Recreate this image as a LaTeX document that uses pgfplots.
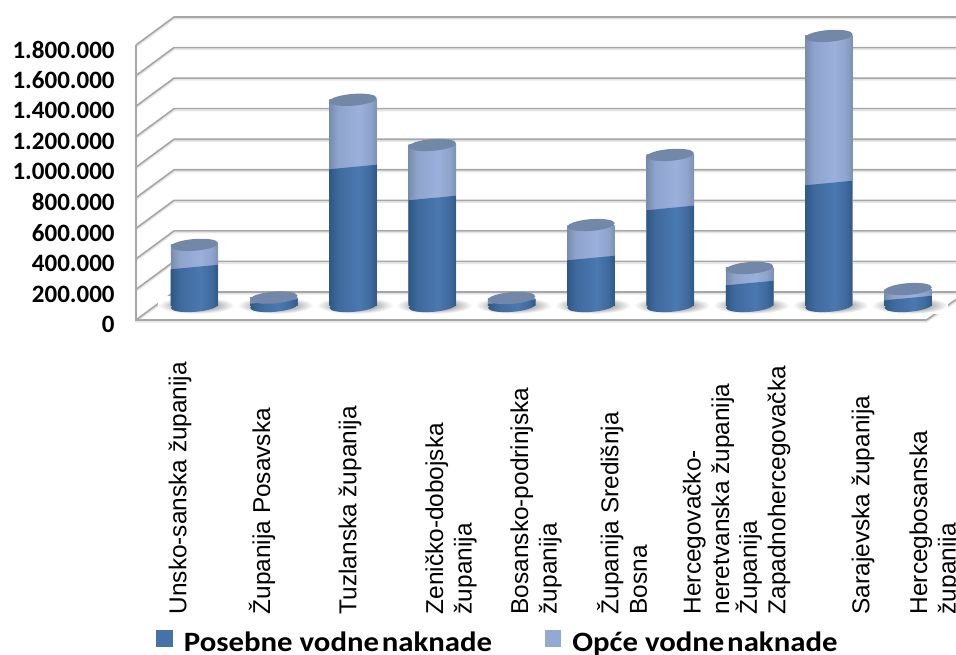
\documentclass[border=0pt]{standalone}
\usepackage{fontspec}
\usepackage{pgfplots}
\usepackage{pgfplotstable}
\pgfplotsset{compat=1.18}
\setmainfont{Carlito}
\newfontfamily\catfont{Liberation Sans}
\newfontfamily\legfont[FakeStretch=1.10]{Carlito}
\definecolor{darkleg}{HTML}{4672A8}
\definecolor{lightleg}{HTML}{94A9D2}
\definecolor{capcol}{HTML}{7387A8}
\definecolor{gridcol}{HTML}{A6A6A6}
\definecolor{d0}{HTML}{2E5885}
\definecolor{d1}{HTML}{3F6A9E}
\definecolor{d2}{HTML}{4A78B0}
\definecolor{d3}{HTML}{2F5887}
\definecolor{l0}{HTML}{788CAE}
\definecolor{l1}{HTML}{8FA4CC}
\definecolor{l2}{HTML}{9BB0DA}
\definecolor{l3}{HTML}{7C90B2}
\definecolor{fs}{HTML}{A8A8A8}
\pgfdeclarehorizontalshading{cyldark}{100bp}{color(0bp)=(d0); color(25bp)=(d0); color(35bp)=(d1); color(56bp)=(d2); color(68bp)=(d1); color(75bp)=(d3); color(100bp)=(d3)}
\pgfdeclarehorizontalshading{cyllight}{100bp}{color(0bp)=(l0); color(25bp)=(l0); color(34bp)=(l1); color(56bp)=(l2); color(68bp)=(l1); color(75bp)=(l3); color(100bp)=(l3)}
\pgfdeclareradialshading{floorshade}{\pgfpointorigin}{color(0bp)=(fs); color(12bp)=(fs); color(25bp)=(white); color(50bp)=(white)}
% tilted ellipse of the cylinder ends
\newcommand\cylpath{\pgfpathellipse{\pgfpointorigin}{\pgfpoint{17.75pt}{1.4pt}}{\pgfpoint{-0.33pt}{4.4pt}}}
\pgfdeclareplotmark{cylbase}{\cylpath\pgfshadepath{cyldark}{0}\pgfusepath{discard}}
\pgfdeclareplotmark{cyltop}{\cylpath\pgfsetfillcolor{capcol}\pgfusepath{fill}}
% one cylinder: x, posebne, posebne + opce (both in thousands)
% the lower part has a slanted top so the split follows the tilt of the caps
\newcommand\cyl[3]{
  \pgfmathsetmacro\xa{#1-0.46}
  \pgfmathsetmacro\xb{#1+0.50}
  \pgfmathsetmacro\xl{#1-0.2995}
  \pgfmathsetmacro\xr{#1+0.2995}
  \pgfmathtruncatemacro\yl{#2-15}
  \pgfmathtruncatemacro\yr{#2+15}
  \addplot[forget plot,draw=none,shade,shading=floorshade] coordinates {(\xa,-50000) (\xb,-50000) (\xb,60000) (\xa,60000)} -- cycle;
  \addplot[forget plot,ybar,bar shift=0pt,draw=none,shade,shading=cyllight] coordinates {(#1,#3000)};
  \addplot[forget plot,draw=none,shade,shading=cyldark] coordinates {(\xl,0) (\xr,0) (\xr,\yr000) (\xl,\yl000)} -- cycle;
  \addplot[forget plot,only marks,mark=cylbase] coordinates {(#1,0)};
  \addplot[forget plot,only marks,mark=cyltop] coordinates {(#1,#3000)};
}
% walls and floor, the grid lines go front left, back left, back right
\pgfplotstableread{
x y
-0.7377 -91652
-0.2585 91652
9.603 91652
nan nan
-0.7377 108348
-0.2585 291652
9.603 291652
nan nan
-0.7377 308348
-0.2585 491652
9.603 491652
nan nan
-0.7377 508348
-0.2585 691652
9.603 691652
nan nan
-0.7377 708348
-0.2585 891652
9.603 891652
nan nan
-0.7377 908348
-0.2585 1091652
9.603 1091652
nan nan
-0.7377 1108348
-0.2585 1291652
9.603 1291652
nan nan
-0.7377 1308348
-0.2585 1491652
9.603 1491652
nan nan
-0.7377 1508348
-0.2585 1691652
9.603 1691652
nan nan
-0.7377 1708348
-0.2585 1891652
9.603 1891652
nan nan
-0.7377 1708348
-0.7377 -91652
9.23 -91652
9.603 42000
}\walls
\begin{document}
\begin{tikzpicture}
\path[use as bounding box,clip] (0,0) rectangle (717pt,491.25pt);
\begin{axis}[
    at={(0,0)},anchor=south west,
    scale only axis,width=717pt,height=491.25pt,
    xmin=-2.4527,xmax=9.603,ymin=-2284765,ymax=2003260,
    axis line style={draw=none},
    tick style={draw=none},
    bar width=35.6pt,
    unbounded coords=jump,
    scaled y ticks=false,
    ytick={0,200000,400000,600000,800000,1000000,1200000,1400000,1600000,1800000},
    /pgf/number format/.cd,fixed,1000 sep={.},assume math mode=true,/pgfplots/.cd,
    yticklabel style={font=\fontsize{18.75}{20}\selectfont\bfseries,anchor=east,xshift=89.5pt,yshift=-13.9pt},
    xtick={-0.183,0.851,1.961,3.234,4.306,5.391,6.482,7.169,8.430,9.338},
    xticklabels={{Unsko-sanska županija},{Županija Posavska},{Tuzlanska županija},{Zeničko-dobojska\\županija},{Bosansko-podrinjska\\županija},{Županija Središnja\\Bosna},{Hercegovačko-\\neretvanska županija},{Županija\\Zapadnohercegovačka},{Sarajevska županija},{Hercegbosanska\\županija}},
    xticklabel style={font=\catfont\fontsize{18.3}{21.4}\selectfont,rotate=90,anchor=west,align=left,xshift=27pt},
    legend style={at={(114pt,-3pt)},anchor=south west,draw=none,fill=none,legend columns=2,
        font=\legfont\fontsize{21}{22}\selectfont\bfseries,
        /tikz/every even column/.style={column sep=37.5pt}},
]
\addplot[forget plot,no markers,black!10,line width=1.3pt,yshift=-1.3pt] table {\walls};
\addplot[forget plot,no markers,gridcol,line width=1.2pt] table {\walls};
\cyl{0}{255}{400}
\cyl{1}{30}{55}
\cyl{2}{910}{1350}
\cyl{3}{707}{1054}
\cyl{4}{28}{52}
\cyl{5}{314}{530}
\cyl{6}{642}{989}
\cyl{7}{150}{249}
\cyl{8}{805}{1768}
\cyl{9}{52}{111}
\addlegendimage{legend image code/.code={\fill[darkleg,draw=none] (0pt,-3pt) rectangle (12.4pt,9.5pt);\path (18.5pt,0pt);}}
\addlegendentry{Posebne vodne \hspace{-0.15em}naknade}
\addlegendimage{legend image code/.code={\fill[lightleg,draw=none] (0pt,-3pt) rectangle (12.4pt,9.5pt);\path (18.5pt,0pt);}}
\addlegendentry{Opće vodne \hspace{-0.15em}naknade}
\end{axis}
\end{tikzpicture}
\end{document}
